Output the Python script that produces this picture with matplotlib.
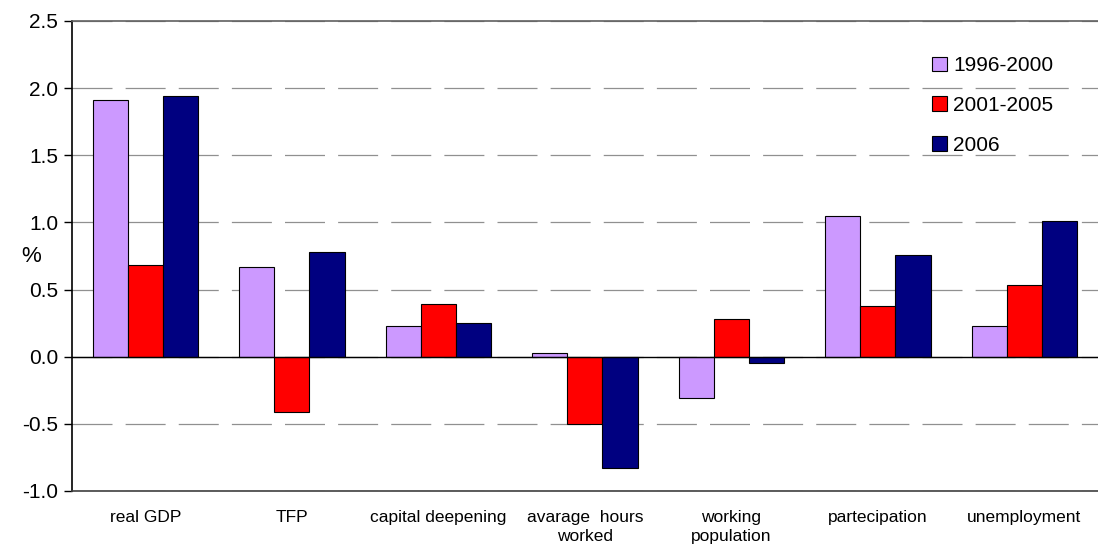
import matplotlib
matplotlib.use("Agg")
import matplotlib.pyplot as plt
import numpy as np

categories = ["real GDP", "TFP", "capital deepening", "avarage  hours\nworked",
              "working\npopulation", "partecipation", "unemployment"]
series_names = ["1996-2000", "2001-2005", "2006"]
values_9600 = [1.91, 0.67, 0.23, 0.03, -0.31, 1.05, 0.23]
values_0105 = [0.68, -0.41, 0.39, -0.50, 0.28, 0.38, 0.53]
values_2006 = [1.94, 0.78, 0.25, -0.83, -0.05, 0.76, 1.01]
colors = ["#CC99FF", "#FF0000", "#000080"]

plt.rcParams["font.family"] = ["Liberation Sans", "DejaVu Sans"]

fig = plt.figure(figsize=(10.98, 5.51), dpi=100)
ax = fig.add_axes([0.0656, 0.109, 0.934, 0.853])

x = np.arange(len(categories))
width = 0.24
for i, (vals, name, col) in enumerate(zip([values_9600, values_0105, values_2006],
                                          series_names, colors)):
    ax.bar(x + (i - 1) * width, vals, width, color=col, edgecolor="black",
           linewidth=0.8, label=name, zorder=3)

ax.set_xlim(-0.5, len(categories) - 0.5)
ax.set_ylim(-1.0, 2.5)
ticks = np.arange(-1.0, 2.51, 0.5)
ax.set_yticks(ticks)
ax.set_yticklabels([f"{v:.1f}" for v in ticks], fontsize=15)
ax.set_xticks(x)
ax.set_xticklabels(categories, fontsize=12.5, linespacing=1.3)
ax.tick_params(axis="x", length=0, pad=14)
ax.tick_params(axis="y", length=6, width=1, direction="out", pad=4)

ax.grid(axis="y", color="#909090", linestyle=(0, (32, 10.5)), linewidth=0.9, zorder=0)
ax.axhline(0, color="black", linewidth=1, zorder=4)
ax.spines["right"].set_visible(False)
ax.spines["top"].set_color("#606060")
ax.spines["top"].set_linewidth(1.2)
ax.spines["left"].set_linewidth(1.2)
ax.spines["bottom"].set_color("#404040")
ax.spines["bottom"].set_linewidth(1.2)

fig.text(0.019, 0.535, "%", fontsize=16, ha="left", va="center")

leg = ax.legend(loc="upper right", bbox_to_anchor=(0.975, 0.965), frameon=False,
                fontsize=15, handlelength=0.7, handleheight=0.7, handletextpad=0.3,
                labelspacing=1.0)

fig.savefig("out.png", dpi=100)
